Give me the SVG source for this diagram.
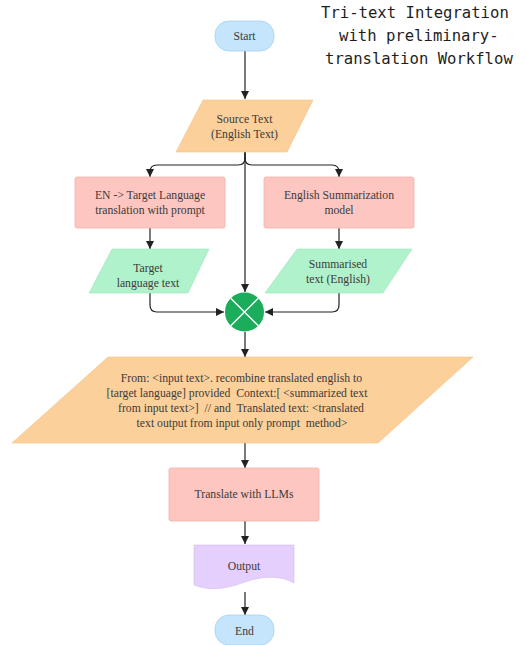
<svg xmlns="http://www.w3.org/2000/svg" width="526" height="645" viewBox="0 0 526 645">
<style>
.t{font-family:"Liberation Serif","Times New Roman",serif;font-size:11.7px;fill:#3d3a3a;text-anchor:middle;white-space:pre}
.title{font-family:"DejaVu Sans Mono","Liberation Mono",monospace;font-size:15.6px;fill:#1e1e1e;white-space:pre}
.term{fill:#c4e5fc;stroke:#a6d0ee;stroke-width:0.8}
.io{fill:#fbd09b;stroke:#f3c387;stroke-width:0.6;stroke-linejoin:round}
.proc{fill:#fec6c1;stroke:#f2b0ab;stroke-width:0.8}
.gr{fill:#b0f2cb;stroke:#9fe6bc;stroke-width:0.6;stroke-linejoin:round}
.doc{fill:#e4cffd;stroke:#d4bcf2;stroke-width:0.6}
.c{fill:none;stroke:#222;stroke-width:1.2}
</style>
<defs>
<marker id="ah" markerUnits="userSpaceOnUse" markerWidth="8" markerHeight="8" refX="8" refY="4" orient="auto">
<path d="M0,0 L8,4 L0,8 z" fill="#222"/>
</marker>
</defs>
<rect width="526" height="645" fill="#fff"/>
<g id="title">
<text class="title" x="321" y="18">Tri-text Integration</text>
<text class="title" x="339" y="41">with preliminary-</text>
<text class="title" x="325" y="64">translation Workflow</text>
</g>
<g id="connectors">
<path class="c" d="M245,51 V99" marker-end="url(#ah)"/>
<path class="c" d="M245,152 V158 Q245,165 238,165 H157 Q150,165 150,172 V177" marker-end="url(#ah)"/>
<path class="c" d="M245,152 V158 Q245,165 252,165 H332 Q339,165 339,172 V177" marker-end="url(#ah)"/>
<path class="c" d="M245,152 V292" marker-end="url(#ah)"/>
<path class="c" d="M150,228 V249" marker-end="url(#ah)"/>
<path class="c" d="M339,228 V249" marker-end="url(#ah)"/>
<path class="c" d="M150,293 V305 Q150,312 157,312 H224" marker-end="url(#ah)"/>
<path class="c" d="M339,293 V305 Q339,312 332,312 H265" marker-end="url(#ah)"/>
<path class="c" d="M245,332 V357" marker-end="url(#ah)"/>
<path class="c" d="M245,443 V468" marker-end="url(#ah)"/>
<path class="c" d="M245,521 V544" marker-end="url(#ah)"/>
<path class="c" d="M245,592 V615" marker-end="url(#ah)"/>
</g>
<g id="start">
<rect class="term" x="215" y="21" width="59" height="30" rx="14"/>
<text class="t" x="244.5" y="40">Start</text>
</g>
<g id="source">
<path class="io" d="M203,100 H313 L287,152 H176 Z"/>
<text class="t" x="244.5" y="123">Source Text</text>
<text class="t" x="244.5" y="137.5">(English Text)</text>
</g>
<g id="translate-prompt">
<rect class="proc" x="75" y="177" width="150" height="51" rx="2"/>
<text class="t" x="150" y="199">EN -&gt; Target Language</text>
<text class="t" x="150" y="214">translation with prompt</text>
</g>
<g id="summarization">
<rect class="proc" x="264" y="177" width="150" height="51" rx="2"/>
<text class="t" x="339" y="199">English Summarization</text>
<text class="t" x="339" y="214">model</text>
</g>
<g id="target-text">
<path class="gr" d="M112,249 H209 L188,293 H89 Z"/>
<text class="t" x="148" y="272">Target</text>
<text class="t" x="148" y="287">language text</text>
</g>
<g id="summarised-text">
<path class="gr" d="M297,249 H412 L383,293 H265 Z"/>
<text class="t" x="338" y="268">Summarised</text>
<text class="t" x="338" y="283">text (English)</text>
</g>
<g id="junction">
<circle cx="244.5" cy="312" r="19.5" fill="#1cad5c"/>
<path d="M230.7,298.2 L258.3,325.8 M258.3,298.2 L230.7,325.8" stroke="#fff" stroke-width="1.4"/>
</g>
<g id="prompt">
<path class="io" d="M108,357 H473 L378,443 H12 Z"/>
<text class="t" x="241.5" y="382">From: &lt;input text&gt;. recombine translated english to</text>
<text class="t" x="237" y="397">[target language] provided  Context:[ &lt;summarized text</text>
<text class="t" x="241" y="412">from input text&gt;]  // and  Translated text: &lt;translated</text>
<text class="t" x="242" y="427">text output from input only prompt  method&gt;</text>
</g>
<g id="llm">
<rect class="proc" x="169" y="468" width="150" height="53" rx="2"/>
<text class="t" x="244" y="498">Translate with LLMs</text>
</g>
<g id="output">
<path class="doc" d="M194,545 H294 V583 C282,576 265,575 245,582 C228,588 212,592 194,585 Z"/>
<text class="t" x="244" y="570">Output</text>
</g>
<g id="end">
<rect class="term" x="215" y="615" width="59" height="30" rx="14"/>
<text class="t" x="244.5" y="635">End</text>
</g>
</svg>
